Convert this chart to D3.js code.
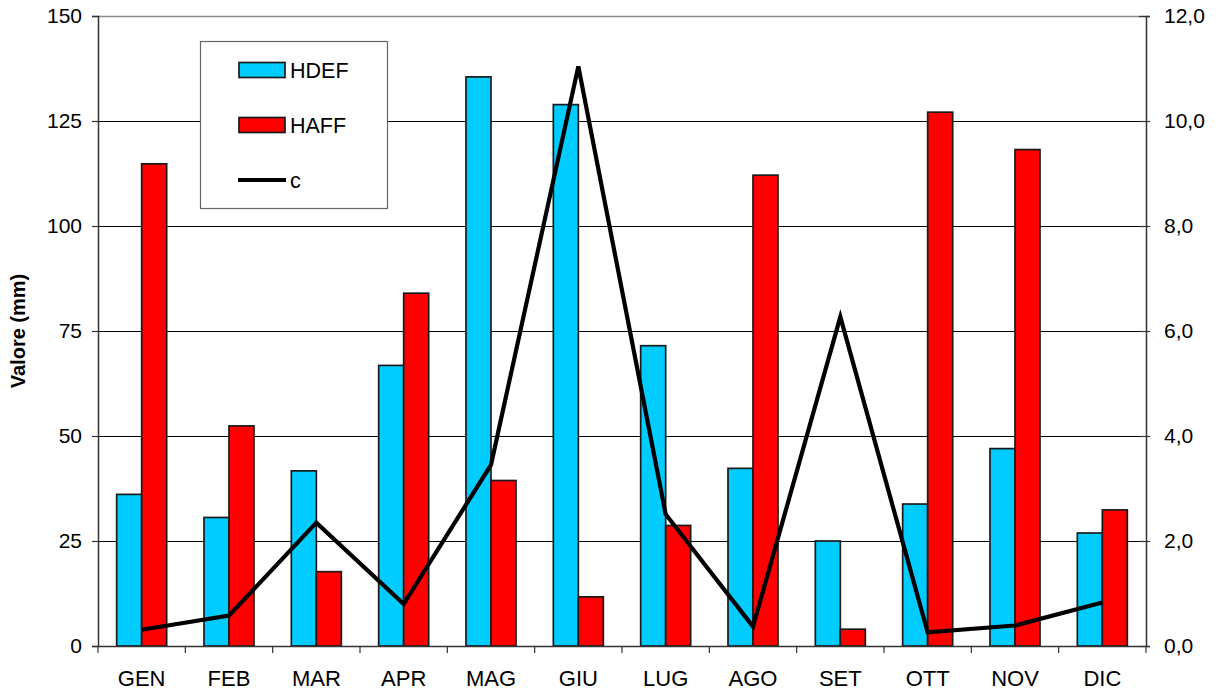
<!DOCTYPE html>
<html><head><meta charset="utf-8">
<script src="https://cdn.jsdelivr.net/npm/d3@7"></script>
<style>body{margin:0;background:#fff}svg{display:block;font-family:"Liberation Sans",Arial,sans-serif}</style>
</head><body>
<svg id="c" width="1221" height="694"></svg>
<script>
const months = ["GEN","FEB","MAR","APR","MAG","GIU","LUG","AGO","SET","OTT","NOV","DIC"];
const hdef = [36.1,30.6,41.7,66.8,135.5,128.9,71.5,42.3,25.0,33.8,47.0,26.9];
const haff = [114.8,52.4,17.7,84.0,39.4,11.7,28.7,112.1,4.0,127.1,118.2,32.4];
const cVals = [0.31,0.58,2.35,0.80,3.45,11.04,2.51,0.37,6.27,0.26,0.39,0.83];
const leftTicks = [0,25,50,75,100,125,150];
const rightTicks = [0,2,4,6,8,10,12];
const seriesNames = ["HDEF","HAFF","c"];
const colors = {HDEF:"#00CCFF", HAFF:"#FF0000", c:"#000000"};

const svg = d3.select("#c");
const L = 98, R = 1146, T = 16, B = 646;
const x = d3.scaleBand().domain(months).range([L, R]).padding(0);
const bw = x.bandwidth();
const groupW = 50;
const x1 = d3.scaleBand().domain(["HDEF","HAFF"]).range([(bw-groupW)/2, (bw+groupW)/2]).padding(0);
const yL = d3.scaleLinear().domain([0,150]).range([B, T]);
const yR = d3.scaleLinear().domain([0,12]).range([B, T]);

// gridlines
svg.append("g").selectAll("line").data(leftTicks.filter(d => d>0 && d<150)).join("line")
  .attr("x1", L).attr("x2", R).attr("y1", d => yL(d)+0.5).attr("y2", d => yL(d)+0.5)
  .attr("stroke", "#000").attr("stroke-width", 1);
// top border
svg.append("line").attr("x1", L).attr("x2", R).attr("y1", T+0.5).attr("y2", T+0.5)
  .attr("stroke", "#8c8c8c").attr("stroke-width", 1.5);

// bars
const rows = months.map((m,i) => ({m, HDEF: hdef[i], HAFF: haff[i]}));
const g = svg.append("g");
["HDEF","HAFF"].forEach(s => {
  g.selectAll("rect."+s).data(rows).join("rect").attr("class", s)
    .attr("x", d => x(d.m) + x1(s))
    .attr("width", x1.bandwidth())
    .attr("y", d => yL(d[s]))
    .attr("height", d => B - yL(d[s]))
    .attr("fill", colors[s]).attr("stroke", "#1a1a1a").attr("stroke-width", 1.7);
});

// line c
const line = d3.line().x((d,i) => x(months[i]) + bw/2).y(d => yR(d));
svg.append("path").datum(cVals).attr("d", line).attr("fill", "none")
  .attr("stroke", "#000").attr("stroke-width", 4.2).attr("stroke-linejoin", "miter");

// left axis
const axL = d3.axisLeft(yL).tickValues(leftTicks).tickSize(6).tickPadding(10).tickFormat(d3.format("d"));
const gL = svg.append("g").attr("transform", `translate(${L},0)`).call(axL);
gL.select(".domain").attr("stroke", "#333").attr("stroke-width", 1.5);
gL.selectAll(".tick line").attr("stroke", "#333").attr("stroke-width", 1.2);
gL.selectAll("text").attr("font-size", 21).attr("fill", "#000").attr("font-family", "Liberation Sans, Arial, sans-serif");

// right axis
const axR = d3.axisRight(yR).tickValues(rightTicks).tickSize(4).tickPadding(14)
  .tickFormat(d => d3.format(".1f")(d).replace(".", ","));
const gR = svg.append("g").attr("transform", `translate(${R},0)`).call(axR);
gR.select(".domain").attr("stroke", "#333").attr("stroke-width", 1.5);
gR.selectAll(".tick line").attr("x1", -7).attr("stroke", "#333").attr("stroke-width", 1.2);
gR.selectAll("text").attr("font-size", 21).attr("fill", "#000").attr("font-family", "Liberation Sans, Arial, sans-serif");

// bottom axis
const xt = d3.scaleLinear().domain([0,12]).range([L,R]);
const gB = svg.append("g");
gB.append("line").attr("x1", L).attr("x2", R).attr("y1", B+0.5).attr("y2", B+0.5).attr("stroke", "#333").attr("stroke-width", 1.5);
gB.selectAll("line.t").data(d3.range(13)).join("line").attr("class","t")
  .attr("x1", d => xt(d)).attr("x2", d => xt(d)).attr("y1", B).attr("y2", B+7)
  .attr("stroke", "#333").attr("stroke-width", 1.2);
gB.selectAll("text").data(months).join("text")
  .attr("x", d => x(d) + bw/2).attr("y", B + 40).attr("text-anchor", "middle")
  .attr("font-size", 22).attr("fill", "#000").text(d => d);

// y title
svg.append("text").attr("transform", `translate(25,${(T+B)/2}) rotate(-90)`)
  .attr("text-anchor", "middle").attr("font-size", 20).attr("font-weight", "bold").text("Valore (mm)");

// legend
const lg = svg.append("g");
lg.append("rect").attr("x", 200.5).attr("y", 41.5).attr("width", 187).attr("height", 167)
  .attr("fill", "#fff").attr("stroke", "#666").attr("stroke-width", 1.2);
const ly = [70, 125, 180];
seriesNames.forEach((s,i) => {
  if (s === "c") {
    lg.append("line").attr("x1", 238).attr("x2", 286).attr("y1", ly[i]).attr("y2", ly[i])
      .attr("stroke", "#000").attr("stroke-width", 4);
    lg.append("text").attr("x", 290).attr("y", ly[i]+8).attr("font-size", 21.5).text(s);
  } else {
    lg.append("rect").attr("x", 239).attr("y", ly[i]-7.5).attr("width", 46).attr("height", 15)
      .attr("fill", colors[s]).attr("stroke", "#1a1a1a").attr("stroke-width", 1.7);
    lg.append("text").attr("x", 290).attr("y", ly[i]+8).attr("font-size", 21.5).text(s);
  }
});
</script>
</body></html>
